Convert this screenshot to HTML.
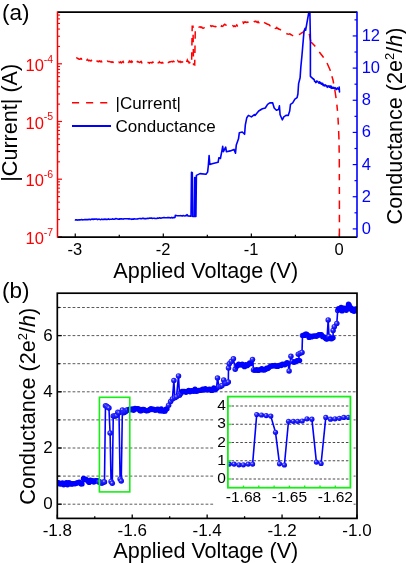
<!DOCTYPE html>
<html><head><meta charset="utf-8"><style>
html,body{margin:0;padding:0;background:#fff;}
svg{display:block;font-family:"Liberation Sans", sans-serif;will-change:transform;}
</style></head><body>
<svg width="406" height="563" viewBox="0 0 406 563">
<rect width="406" height="563" fill="#fff"/>
<text x="2.10" y="19.50" font-size="22.5" fill="#000" text-anchor="start" >(a)</text>
<line x1="75.25" y1="237.00" x2="75.25" y2="233.40" stroke="#000" stroke-width="1.2"/>
<line x1="163.30" y1="237.00" x2="163.30" y2="233.40" stroke="#000" stroke-width="1.2"/>
<line x1="251.35" y1="237.00" x2="251.35" y2="233.40" stroke="#000" stroke-width="1.2"/>
<line x1="339.40" y1="237.00" x2="339.40" y2="233.40" stroke="#000" stroke-width="1.2"/>
<line x1="119.27" y1="237.00" x2="119.27" y2="234.80" stroke="#000" stroke-width="1.2"/>
<line x1="207.32" y1="237.00" x2="207.32" y2="234.80" stroke="#000" stroke-width="1.2"/>
<line x1="295.38" y1="237.00" x2="295.38" y2="234.80" stroke="#000" stroke-width="1.2"/>
<text x="74.95" y="254.70" font-size="16.5" fill="#000" text-anchor="middle" >-3</text>
<text x="163.00" y="254.70" font-size="16.5" fill="#000" text-anchor="middle" >-2</text>
<text x="251.05" y="254.70" font-size="16.5" fill="#000" text-anchor="middle" >-1</text>
<text x="339.10" y="254.70" font-size="16.5" fill="#000" text-anchor="middle" >0</text>
<text x="205.70" y="278.00" font-size="21.6" fill="#000" text-anchor="middle" >Applied Voltage (V)</text>
<line x1="57.50" y1="236.90" x2="62.00" y2="236.90" stroke="#ff0000" stroke-width="1.2"/>
<line x1="57.50" y1="219.53" x2="60.00" y2="219.53" stroke="#ff0000" stroke-width="1.1"/>
<line x1="57.50" y1="209.37" x2="60.00" y2="209.37" stroke="#ff0000" stroke-width="1.1"/>
<line x1="57.50" y1="202.16" x2="60.00" y2="202.16" stroke="#ff0000" stroke-width="1.1"/>
<line x1="57.50" y1="196.57" x2="60.00" y2="196.57" stroke="#ff0000" stroke-width="1.1"/>
<line x1="57.50" y1="192.00" x2="60.00" y2="192.00" stroke="#ff0000" stroke-width="1.1"/>
<line x1="57.50" y1="188.14" x2="60.00" y2="188.14" stroke="#ff0000" stroke-width="1.1"/>
<line x1="57.50" y1="184.79" x2="60.00" y2="184.79" stroke="#ff0000" stroke-width="1.1"/>
<line x1="57.50" y1="181.84" x2="60.00" y2="181.84" stroke="#ff0000" stroke-width="1.1"/>
<line x1="57.50" y1="179.20" x2="62.00" y2="179.20" stroke="#ff0000" stroke-width="1.2"/>
<line x1="57.50" y1="161.83" x2="60.00" y2="161.83" stroke="#ff0000" stroke-width="1.1"/>
<line x1="57.50" y1="151.67" x2="60.00" y2="151.67" stroke="#ff0000" stroke-width="1.1"/>
<line x1="57.50" y1="144.46" x2="60.00" y2="144.46" stroke="#ff0000" stroke-width="1.1"/>
<line x1="57.50" y1="138.87" x2="60.00" y2="138.87" stroke="#ff0000" stroke-width="1.1"/>
<line x1="57.50" y1="134.30" x2="60.00" y2="134.30" stroke="#ff0000" stroke-width="1.1"/>
<line x1="57.50" y1="130.44" x2="60.00" y2="130.44" stroke="#ff0000" stroke-width="1.1"/>
<line x1="57.50" y1="127.09" x2="60.00" y2="127.09" stroke="#ff0000" stroke-width="1.1"/>
<line x1="57.50" y1="124.14" x2="60.00" y2="124.14" stroke="#ff0000" stroke-width="1.1"/>
<line x1="57.50" y1="121.50" x2="62.00" y2="121.50" stroke="#ff0000" stroke-width="1.2"/>
<line x1="57.50" y1="104.13" x2="60.00" y2="104.13" stroke="#ff0000" stroke-width="1.1"/>
<line x1="57.50" y1="93.97" x2="60.00" y2="93.97" stroke="#ff0000" stroke-width="1.1"/>
<line x1="57.50" y1="86.76" x2="60.00" y2="86.76" stroke="#ff0000" stroke-width="1.1"/>
<line x1="57.50" y1="81.17" x2="60.00" y2="81.17" stroke="#ff0000" stroke-width="1.1"/>
<line x1="57.50" y1="76.60" x2="60.00" y2="76.60" stroke="#ff0000" stroke-width="1.1"/>
<line x1="57.50" y1="72.74" x2="60.00" y2="72.74" stroke="#ff0000" stroke-width="1.1"/>
<line x1="57.50" y1="69.39" x2="60.00" y2="69.39" stroke="#ff0000" stroke-width="1.1"/>
<line x1="57.50" y1="66.44" x2="60.00" y2="66.44" stroke="#ff0000" stroke-width="1.1"/>
<line x1="57.50" y1="63.80" x2="62.00" y2="63.80" stroke="#ff0000" stroke-width="1.2"/>
<line x1="57.50" y1="46.43" x2="60.00" y2="46.43" stroke="#ff0000" stroke-width="1.1"/>
<line x1="57.50" y1="36.27" x2="60.00" y2="36.27" stroke="#ff0000" stroke-width="1.1"/>
<line x1="57.50" y1="29.06" x2="60.00" y2="29.06" stroke="#ff0000" stroke-width="1.1"/>
<line x1="57.50" y1="23.47" x2="60.00" y2="23.47" stroke="#ff0000" stroke-width="1.1"/>
<line x1="57.50" y1="18.90" x2="60.00" y2="18.90" stroke="#ff0000" stroke-width="1.1"/>
<line x1="57.50" y1="15.04" x2="60.00" y2="15.04" stroke="#ff0000" stroke-width="1.1"/>
<text x="43.9" y="70.80" font-size="16.5" fill="#ff0000" text-anchor="end">10</text>
<text x="43.7" y="62.50" font-size="10.5" fill="#ff0000">-4</text>
<text x="43.9" y="128.50" font-size="16.5" fill="#ff0000" text-anchor="end">10</text>
<text x="43.7" y="120.20" font-size="10.5" fill="#ff0000">-5</text>
<text x="43.9" y="186.20" font-size="16.5" fill="#ff0000" text-anchor="end">10</text>
<text x="43.7" y="177.90" font-size="10.5" fill="#ff0000">-6</text>
<text x="43.9" y="243.90" font-size="16.5" fill="#ff0000" text-anchor="end">10</text>
<text x="43.7" y="235.60" font-size="10.5" fill="#ff0000">-7</text>
<line x1="357.00" y1="228.90" x2="352.70" y2="228.90" stroke="#0000ff" stroke-width="1.2"/>
<line x1="357.00" y1="212.82" x2="354.50" y2="212.82" stroke="#0000ff" stroke-width="1.2"/>
<line x1="357.00" y1="196.74" x2="352.70" y2="196.74" stroke="#0000ff" stroke-width="1.2"/>
<line x1="357.00" y1="180.66" x2="354.50" y2="180.66" stroke="#0000ff" stroke-width="1.2"/>
<line x1="357.00" y1="164.58" x2="352.70" y2="164.58" stroke="#0000ff" stroke-width="1.2"/>
<line x1="357.00" y1="148.50" x2="354.50" y2="148.50" stroke="#0000ff" stroke-width="1.2"/>
<line x1="357.00" y1="132.42" x2="352.70" y2="132.42" stroke="#0000ff" stroke-width="1.2"/>
<line x1="357.00" y1="116.34" x2="354.50" y2="116.34" stroke="#0000ff" stroke-width="1.2"/>
<line x1="357.00" y1="100.26" x2="352.70" y2="100.26" stroke="#0000ff" stroke-width="1.2"/>
<line x1="357.00" y1="84.18" x2="354.50" y2="84.18" stroke="#0000ff" stroke-width="1.2"/>
<line x1="357.00" y1="68.10" x2="352.70" y2="68.10" stroke="#0000ff" stroke-width="1.2"/>
<line x1="357.00" y1="52.02" x2="354.50" y2="52.02" stroke="#0000ff" stroke-width="1.2"/>
<line x1="357.00" y1="35.94" x2="352.70" y2="35.94" stroke="#0000ff" stroke-width="1.2"/>
<line x1="357.00" y1="19.86" x2="354.50" y2="19.86" stroke="#0000ff" stroke-width="1.2"/>
<text x="361.70" y="233.90" font-size="16.5" fill="#0000ff" text-anchor="start" >0</text>
<text x="361.70" y="201.74" font-size="16.5" fill="#0000ff" text-anchor="start" >2</text>
<text x="361.70" y="169.58" font-size="16.5" fill="#0000ff" text-anchor="start" >4</text>
<text x="361.70" y="137.42" font-size="16.5" fill="#0000ff" text-anchor="start" >6</text>
<text x="361.70" y="105.26" font-size="16.5" fill="#0000ff" text-anchor="start" >8</text>
<text x="361.70" y="73.10" font-size="16.5" fill="#0000ff" text-anchor="start" >10</text>
<text x="361.70" y="40.94" font-size="16.5" fill="#0000ff" text-anchor="start" >12</text>
<text transform="translate(17.3,122.8) rotate(-90)" font-size="21.6" fill="#000" text-anchor="middle">|Current| (A)</text>
<text transform="translate(401.5,126) rotate(-90)" font-size="21.6" fill="#000" text-anchor="middle">Conductance (2e<tspan font-size="13" dy="-8">2</tspan><tspan dy="8">/</tspan><tspan font-style="italic">h</tspan>)</text>
<line x1="72.00" y1="102.80" x2="108.00" y2="102.80" stroke="#ff0000" stroke-width="1.5" stroke-dasharray="7.1 7"/>
<line x1="72.00" y1="126.00" x2="111.00" y2="126.00" stroke="#0000ff" stroke-width="1.8"/>
<text x="115.50" y="108.80" font-size="17" fill="#000" text-anchor="start" >|Current|</text>
<text x="115.50" y="131.80" font-size="17" fill="#000" text-anchor="start" >Conductance</text>
<polyline points="76.20,58.10 76.83,57.84 77.47,58.54 78.10,58.43 78.73,59.01 79.37,59.23 80.00,59.20 80.62,58.50 81.25,58.45 81.88,59.89 82.50,58.94 83.12,58.94 83.75,60.27 84.38,59.41 85.00,59.50 85.62,60.20 86.25,59.71 86.88,60.11 87.50,59.41 88.12,60.35 88.75,60.88 89.38,60.41 90.00,60.50 90.62,60.89 91.25,60.74 91.88,59.68 92.50,60.84 93.12,60.53 93.75,60.01 94.38,59.53 95.00,60.30 95.62,61.03 96.25,60.48 96.88,61.01 97.50,61.39 98.12,61.23 98.75,61.69 99.38,60.91 100.00,61.20 100.62,61.69 101.25,61.06 101.88,61.87 102.50,61.74 103.12,60.39 103.75,60.43 104.38,60.54 105.00,61.00 105.62,61.89 106.25,61.09 106.88,61.52 107.50,61.06 108.12,61.51 108.75,61.41 109.38,61.45 110.00,61.80 110.62,61.91 111.25,61.87 111.88,62.37 112.50,61.96 113.12,62.34 113.75,62.18 114.38,62.37 115.00,61.50 115.62,61.89 116.25,61.13 116.88,62.41 117.50,62.69 118.12,62.69 118.75,62.22 119.38,62.56 120.00,62.30 120.62,61.78 121.25,62.80 121.88,62.33 122.50,61.81 123.12,61.40 123.75,62.71 124.38,62.91 125.00,61.35 125.62,62.53 126.25,61.84 126.88,61.36 127.50,61.57 128.12,62.35 128.75,62.50 129.38,61.06 130.00,61.80 130.62,62.03 131.25,61.09 131.88,62.27 132.50,61.64 133.12,62.60 133.75,62.80 134.38,62.03 135.00,62.90 135.62,61.76 136.25,61.39 136.88,62.31 137.50,61.38 138.12,61.69 138.75,62.08 139.38,62.46 140.00,62.30 140.62,61.68 141.25,61.45 141.88,62.81 142.50,61.83 143.12,62.89 143.75,62.75 144.38,61.83 145.00,62.00 145.62,62.01 146.25,62.18 146.88,62.47 147.50,62.46 148.12,62.48 148.75,62.65 149.38,63.27 150.00,62.60 150.62,62.61 151.25,62.47 151.88,62.96 152.50,62.13 153.12,62.23 153.75,63.37 154.38,62.59 155.00,62.63 155.62,61.71 156.25,62.39 156.88,62.67 157.50,61.71 158.12,62.72 158.75,62.74 159.38,61.76 160.00,62.50 160.60,62.77 161.20,62.54 161.80,62.95 162.40,62.45 163.00,63.10 163.60,63.20 164.20,62.04 164.80,62.15 165.40,63.25 166.00,63.00 166.67,63.62 167.33,62.24 168.00,62.43 168.67,62.49 169.33,61.86 170.00,62.00 170.67,61.69 171.33,61.51 172.00,61.53 172.67,61.83 173.33,61.24 174.00,61.50 175.00,59.30 176.00,61.50 176.61,61.34 177.22,62.05 177.83,60.83 178.44,61.80 179.06,62.12 179.67,61.44 180.28,61.34 180.89,62.37 181.50,61.90 182.13,61.81 182.76,62.08 183.39,62.86 184.01,63.67 184.64,63.01 185.27,63.74 185.90,64.40 186.60,61.92 187.30,60.00 187.90,61.35 188.50,61.46 189.10,62.94 189.70,62.56 190.30,63.90 190.95,63.92 191.60,64.50 192.20,26.20 193.00,26.20 193.50,64.50 194.70,64.90 195.30,28.00 196.20,27.97 197.10,28.08 198.00,27.20 198.75,27.20 199.50,26.91 200.25,26.82 201.00,27.55 201.75,27.08 202.50,28.14 203.25,28.27 204.00,27.80 204.71,26.98 205.43,26.82 206.14,27.35 206.86,26.77 207.57,26.72 208.29,25.67 209.00,25.60 209.74,25.14 210.49,25.52 211.23,26.46 211.97,25.75 212.71,26.00 213.46,26.24 214.20,26.50 214.92,26.40 215.65,26.41 216.38,27.25 217.10,26.05 217.82,25.83 218.55,27.36 219.28,27.28 220.00,26.70 220.80,27.10 221.60,25.83 222.40,26.28 223.20,25.86 224.00,24.80 224.80,24.26 225.60,24.99 226.40,25.04 227.20,24.66 228.00,24.30 228.80,24.77 229.60,24.84 230.40,25.37 231.20,25.62 232.00,26.50 232.80,25.71 233.60,26.44 234.40,25.86 235.20,26.60 236.00,26.00 236.80,24.87 237.60,25.85 238.40,25.11 239.20,25.08 240.00,24.00 240.71,24.39 241.43,24.15 242.14,23.39 242.86,22.25 243.57,23.18 244.29,22.02 245.00,22.30 245.71,21.97 246.43,22.53 247.14,22.30 247.86,22.10 248.57,22.93 249.29,22.39 250.00,22.20 250.71,21.86 251.43,21.63 252.14,22.52 252.86,21.82 253.57,22.22 254.29,21.45 255.00,21.60 255.75,21.23 256.50,21.88 257.25,22.44 258.00,21.52 258.75,22.63 259.50,22.95 260.25,22.88 261.00,22.50 261.75,23.21 262.50,22.09 263.25,23.27 264.00,23.83 264.75,22.72 265.50,23.26 266.25,23.44 267.00,24.00 267.75,24.36 268.50,24.50 269.25,24.89 270.00,25.69 270.75,24.77 271.50,25.16 272.25,25.59 273.00,26.50 273.75,26.24 274.50,26.48 275.25,28.27 276.00,28.42 276.75,27.53 277.50,28.53 278.25,28.57 279.00,29.20 279.71,29.30 280.43,29.76 281.14,30.64 281.86,30.94 282.57,30.98 283.29,31.11 284.00,32.00 284.80,32.15 285.60,32.24 286.40,33.35 287.20,34.03 288.00,34.10 288.80,34.13 289.60,33.87 290.40,34.25 291.20,34.78 292.00,35.20 292.80,35.57 293.60,36.05 294.40,35.61 295.20,36.48 296.00,36.20 296.76,35.98 297.52,35.25 298.28,34.74 299.04,34.51 299.80,34.10 300.60,33.90 301.40,32.92 302.20,32.84 303.00,32.00 303.70,31.57 304.40,30.86 305.10,30.90 305.84,31.18 306.58,31.65 307.32,30.87 308.06,31.66 308.80,32.00 309.53,35.21 310.27,39.27 311.00,42.00" fill="none" stroke="#ff0000" stroke-width="1.5" stroke-dasharray="7.5 6.8"/>
<polyline points="311.00,42.00 314.70,45.80 319.00,51.60 323.20,57.00 327.00,63.00 330.00,69.70 333.00,80.00 335.00,91.00 336.50,101.00 337.60,112.00 338.40,125.00 339.00,140.00 339.30,160.00 339.40,200.00 339.40,236.00" fill="none" stroke="#ff0000" stroke-width="1.5" stroke-dasharray="6.2 6.8 7 6.5 8.5 5.6 7.5 6.3 8.5 6.6"/>
<polyline points="74.80,219.70 75.67,220.04 76.53,219.68 77.40,220.08 78.27,220.04 79.13,219.70 80.00,219.90 80.83,219.79 81.67,219.47 82.50,219.87 83.33,219.68 84.17,219.75 85.00,219.40 85.83,219.64 86.67,219.58 87.50,219.66 88.33,219.58 89.17,219.29 90.00,219.60 90.83,219.59 91.67,219.12 92.50,219.15 93.33,219.53 94.17,218.95 95.00,219.20 95.83,218.96 96.67,219.02 97.50,219.62 98.33,219.18 99.17,219.12 100.00,219.50 100.83,219.67 101.67,219.10 102.50,219.54 103.33,219.35 104.17,219.40 105.00,219.10 105.83,219.45 106.67,219.22 107.50,219.41 108.33,218.91 109.17,219.45 110.00,219.30 110.83,219.24 111.67,219.32 112.50,218.82 113.33,219.21 114.17,219.27 115.00,218.90 115.83,218.63 116.67,218.84 117.50,219.04 118.33,219.26 119.17,218.89 120.00,219.10 120.83,218.83 121.67,218.82 122.50,219.03 123.33,219.08 124.17,218.78 125.00,218.80 125.83,218.74 126.67,218.79 127.50,218.80 128.33,218.88 129.17,218.67 130.00,219.00 130.83,219.00 131.67,219.33 132.50,218.94 133.33,219.17 134.17,218.76 135.00,219.00 135.83,219.05 136.67,219.01 137.50,218.87 138.33,218.68 139.17,218.57 140.00,218.50 140.83,218.62 141.67,218.81 142.50,218.30 143.33,218.28 144.17,218.76 145.00,218.60 145.83,218.84 146.67,218.51 147.50,218.41 148.33,218.55 149.17,218.13 150.00,218.30 150.83,218.15 151.67,218.12 152.50,218.41 153.33,218.24 154.17,218.20 155.00,218.40 155.83,218.45 156.67,218.55 157.50,218.01 158.33,218.21 159.17,217.92 160.00,217.90 160.83,218.13 161.67,217.93 162.50,217.69 163.33,217.64 164.17,217.48 165.00,217.80 165.83,217.77 166.67,217.68 167.50,217.52 168.33,217.64 169.17,217.59 170.00,217.70 170.83,217.86 171.67,217.38 172.50,217.94 173.33,217.55 174.17,217.60 175.00,217.50 175.30,215.40 176.24,215.44 177.18,215.75 178.12,215.81 179.06,215.68 180.00,215.70 180.81,215.67 181.62,215.83 182.44,215.91 183.25,215.58 184.06,215.80 184.88,215.95 185.69,215.59 186.50,215.60 187.00,214.60 188.00,215.90 191.00,216.30 191.50,172.20 192.30,172.60 192.70,216.50 194.40,216.50 194.70,177.50 195.10,177.50 195.40,216.50 195.90,216.50 196.40,175.40 200.00,173.60 206.00,174.30 207.60,172.10 208.30,166.00 209.10,155.50 209.80,164.50 212.10,163.80 215.10,163.00 218.10,162.30 218.90,157.70 220.40,158.50 221.90,150.90 222.70,146.40 223.40,151.70 225.70,147.10 226.40,151.70 230.20,150.90 234.00,149.40 235.50,153.20 236.30,144.90 238.50,138.80 239.30,132.80 242.30,132.00 244.60,134.30 245.30,125.20 246.80,117.70 248.40,115.40 251.40,116.90 254.40,114.60 255.00,115.40 258.70,111.00 262.40,108.80 265.30,108.00 267.60,104.30 269.80,102.90 272.70,102.90 274.20,108.00 276.40,110.20 278.60,109.50 279.40,105.80 280.10,114.70 282.30,119.80 283.80,116.90 286.00,115.40 288.20,115.40 289.70,111.00 290.50,104.30 292.70,102.90 294.90,99.20 297.10,97.70 297.90,94.00 298.60,83.60 300.10,77.70 300.80,67.40 302.00,55.00 304.00,31.40 305.10,28.20 305.60,30.30 308.80,12.50 309.90,12.50 310.40,40.00 310.40,76.30 313.40,79.20 313.80,79.16 314.20,79.72 314.60,81.33 315.00,81.40 315.38,81.86 315.75,82.56 316.12,82.40 316.50,81.13 316.88,81.09 317.25,81.32 317.62,81.24 318.00,82.00 318.40,82.55 318.80,82.99 319.20,83.18 319.60,81.86 320.00,82.50 320.40,83.60 320.80,82.69 321.20,83.23 321.60,84.20 322.00,84.00 322.35,83.30 322.70,83.53 323.05,85.37 323.40,84.39 323.75,84.75 324.10,85.45 324.45,85.87 324.80,85.70 325.16,84.70 325.51,85.51 325.87,85.83 326.22,86.02 326.58,85.51 326.93,86.42 327.29,87.32 327.64,86.17 328.00,86.50 328.40,86.66 328.80,85.78 329.20,86.18 329.60,87.10 330.00,86.80 330.37,86.06 330.73,87.87 331.10,88.03 331.47,86.36 331.83,88.33 332.20,87.19 332.57,88.18 332.93,88.26 333.30,87.80 333.69,87.42 334.07,88.33 334.46,88.35 334.84,88.76 335.23,87.64 335.61,88.79 336.00,88.30 336.37,89.43 336.73,88.90 337.10,88.71 337.47,87.89 337.83,88.84 338.20,88.64 338.57,89.56 338.93,89.58 339.30,89.30 339.20,87.00 339.50,92.00 339.30,89.50" fill="none" stroke="#0000ff" stroke-width="1.6" stroke-linejoin="round"/>
<line x1="57.50" y1="12.00" x2="357.00" y2="12.00" stroke="#000" stroke-width="1.75"/>
<line x1="57.50" y1="237.00" x2="357.00" y2="237.00" stroke="#000" stroke-width="1.75"/>
<line x1="57.50" y1="11.40" x2="57.50" y2="237.60" stroke="#ff0000" stroke-width="1.5"/>
<line x1="357.00" y1="11.40" x2="357.00" y2="237.60" stroke="#0000ff" stroke-width="1.6"/>
<text x="2.10" y="297.70" font-size="22.5" fill="#000" text-anchor="start" >(b)</text>
<line x1="58.30" y1="504.20" x2="356.00" y2="504.20" stroke="#5a5a5a" stroke-width="1" stroke-dasharray="2.8 1.95"/>
<line x1="58.30" y1="476.10" x2="356.00" y2="476.10" stroke="#5a5a5a" stroke-width="1" stroke-dasharray="2.8 1.95"/>
<line x1="58.30" y1="448.00" x2="356.00" y2="448.00" stroke="#5a5a5a" stroke-width="1" stroke-dasharray="2.8 1.95"/>
<line x1="58.30" y1="419.90" x2="356.00" y2="419.90" stroke="#5a5a5a" stroke-width="1" stroke-dasharray="2.8 1.95"/>
<line x1="58.30" y1="391.80" x2="356.00" y2="391.80" stroke="#5a5a5a" stroke-width="1" stroke-dasharray="2.8 1.95"/>
<line x1="58.30" y1="363.70" x2="356.00" y2="363.70" stroke="#5a5a5a" stroke-width="1" stroke-dasharray="2.8 1.95"/>
<line x1="58.30" y1="335.60" x2="356.00" y2="335.60" stroke="#5a5a5a" stroke-width="1" stroke-dasharray="2.8 1.95"/>
<line x1="58.30" y1="307.50" x2="356.00" y2="307.50" stroke="#5a5a5a" stroke-width="1" stroke-dasharray="2.8 1.95"/>
<line x1="57.30" y1="504.20" x2="61.80" y2="504.20" stroke="#000" stroke-width="1.3"/>
<line x1="57.30" y1="476.10" x2="59.80" y2="476.10" stroke="#000" stroke-width="1.3"/>
<line x1="57.30" y1="448.00" x2="61.80" y2="448.00" stroke="#000" stroke-width="1.3"/>
<line x1="57.30" y1="419.90" x2="59.80" y2="419.90" stroke="#000" stroke-width="1.3"/>
<line x1="57.30" y1="391.80" x2="61.80" y2="391.80" stroke="#000" stroke-width="1.3"/>
<line x1="57.30" y1="363.70" x2="59.80" y2="363.70" stroke="#000" stroke-width="1.3"/>
<line x1="57.30" y1="335.60" x2="61.80" y2="335.60" stroke="#000" stroke-width="1.3"/>
<line x1="57.30" y1="307.50" x2="59.80" y2="307.50" stroke="#000" stroke-width="1.3"/>
<text x="52.60" y="509.20" font-size="17" fill="#000" text-anchor="end" >0</text>
<text x="52.60" y="453.00" font-size="17" fill="#000" text-anchor="end" >2</text>
<text x="52.60" y="396.80" font-size="17" fill="#000" text-anchor="end" >4</text>
<text x="52.60" y="340.60" font-size="17" fill="#000" text-anchor="end" >6</text>
<line x1="57.30" y1="518.40" x2="57.30" y2="514.60" stroke="#000" stroke-width="1.3"/>
<line x1="132.22" y1="518.40" x2="132.22" y2="514.60" stroke="#000" stroke-width="1.3"/>
<line x1="207.14" y1="518.40" x2="207.14" y2="514.60" stroke="#000" stroke-width="1.3"/>
<line x1="282.06" y1="518.40" x2="282.06" y2="514.60" stroke="#000" stroke-width="1.3"/>
<line x1="356.98" y1="518.40" x2="356.98" y2="514.60" stroke="#000" stroke-width="1.3"/>
<line x1="94.76" y1="518.40" x2="94.76" y2="516.20" stroke="#000" stroke-width="1.3"/>
<line x1="169.68" y1="518.40" x2="169.68" y2="516.20" stroke="#000" stroke-width="1.3"/>
<line x1="244.60" y1="518.40" x2="244.60" y2="516.20" stroke="#000" stroke-width="1.3"/>
<line x1="319.52" y1="518.40" x2="319.52" y2="516.20" stroke="#000" stroke-width="1.3"/>
<text x="57.30" y="536.00" font-size="17" fill="#000" text-anchor="middle" >-1.8</text>
<text x="132.22" y="536.00" font-size="17" fill="#000" text-anchor="middle" >-1.6</text>
<text x="207.14" y="536.00" font-size="17" fill="#000" text-anchor="middle" >-1.4</text>
<text x="282.06" y="536.00" font-size="17" fill="#000" text-anchor="middle" >-1.2</text>
<text x="356.98" y="536.00" font-size="17" fill="#000" text-anchor="middle" >-1.0</text>
<text x="205.80" y="558.10" font-size="21.6" fill="#000" text-anchor="middle" >Applied Voltage (V)</text>
<text transform="translate(35.3,406.2) rotate(-90)" font-size="21.6" fill="#000" text-anchor="middle">Conductance (2e<tspan font-size="13" dy="-8">2</tspan><tspan dy="8">/</tspan><tspan font-style="italic">h</tspan>)</text>
<defs><radialGradient id="sph" cx="0.38" cy="0.35" r="0.65"><stop offset="0" stop-color="#c8c8ff"/><stop offset="0.35" stop-color="#2a2aff"/><stop offset="1" stop-color="#0000ee"/></radialGradient><clipPath id="cb"><rect x="57.3" y="293.2" width="299.7" height="225.2"/></clipPath><clipPath id="ci"><rect x="227.7" y="396.3" width="122.8" height="91.5"/></clipPath></defs>
<g clip-path="url(#cb)">
<polyline points="57.30,483.58 58.58,482.61 59.87,483.93 61.15,483.95 62.43,482.80 63.72,484.79 65.00,484.22 66.25,482.73 67.50,484.87 68.75,482.68 70.00,483.15 71.25,484.15 72.50,483.76 73.75,483.60 75.00,483.80 76.17,483.25 77.33,482.83 78.50,482.43 79.67,482.10 80.83,483.82 82.00,483.89 83.50,478.42 84.50,479.55 85.50,479.12 86.75,479.87 88.00,481.19 89.17,482.46 90.33,480.16 91.50,481.36 92.67,480.62 93.83,481.98 95.00,480.81 96.10,480.68 97.20,480.81 98.30,481.00 98.77,481.96 99.94,481.96 101.14,483.04 102.22,483.04 103.40,481.96 104.47,481.96 105.48,405.75 106.65,406.37 107.80,407.29 108.93,408.06 110.08,433.00 111.06,481.50 112.26,483.35 113.26,416.07 114.44,416.07 115.51,416.07 116.62,415.60 117.79,412.22 118.99,412.83 120.09,478.88 121.24,481.04 122.39,410.06 123.54,412.83 124.64,412.22 125.72,411.45 126.80,410.06 127.90,410.06 129.50,409.11 130.88,409.83 132.25,408.80 133.62,410.24 135.00,408.35 136.25,408.96 137.50,408.67 138.75,408.88 140.00,410.85 141.25,410.79 142.50,409.40 143.75,409.49 145.00,410.17 146.25,410.76 147.50,410.65 148.75,410.17 150.00,409.45 151.00,408.55 152.00,409.53 153.33,409.04 154.67,410.01 156.00,410.18 157.33,409.26 158.67,409.46 160.00,410.96 161.25,408.88 162.50,410.92 163.75,411.11 165.00,411.21 166.00,409.08 167.00,408.80 168.60,405.20 170.60,401.50 172.40,399.00 173.90,380.60 174.80,397.80 176.50,396.80 178.50,375.90 179.50,395.20 181.00,393.20 182.00,391.34 183.33,391.36 184.67,391.43 186.00,392.29 187.33,391.44 188.67,390.33 190.00,391.77 191.25,390.71 192.50,390.97 193.75,391.26 195.00,389.26 196.25,391.28 197.50,390.94 198.75,390.43 200.00,390.46 201.33,390.14 202.67,389.27 204.00,390.03 205.33,388.55 206.67,389.65 208.00,389.89 209.17,389.25 210.33,389.48 211.50,390.44 212.67,390.16 213.83,388.02 215.00,389.69 216.50,388.40 217.50,378.00 219.00,386.80 220.50,386.50 222.00,385.50 223.70,380.00 225.50,383.50 227.00,383.00 228.30,382.00 228.50,368.00 229.30,363.70 231.20,361.50 233.40,358.80 235.20,369.20 236.50,366.50 237.50,365.53 238.67,364.04 239.83,364.92 241.00,364.63 242.17,364.26 243.33,365.55 244.50,366.66 245.73,364.59 246.97,365.63 248.20,364.73 249.60,362.86 251.00,363.50 252.50,359.40 253.50,369.90 255.00,370.37 256.50,369.62 258.00,370.45 259.25,369.83 260.50,369.85 261.75,368.73 263.00,369.93 264.20,369.97 265.40,369.48 266.60,368.03 267.80,368.59 269.00,367.56 270.20,366.30 271.40,365.89 272.60,365.74 273.80,365.83 275.00,365.48 276.25,366.14 277.50,366.44 278.75,365.75 280.00,365.19 281.20,365.48 282.40,364.23 283.60,364.34 284.80,364.81 286.00,363.53 287.00,362.69 288.00,363.30 289.10,370.90 290.90,356.30 292.50,361.50 294.00,362.28 295.50,361.69 297.00,360.64 298.30,360.45 299.60,360.60 298.30,354.20 300.20,353.20 302.00,352.40 302.50,335.50 303.50,335.38 304.45,335.41 305.40,334.25 306.62,334.21 307.85,335.31 309.07,337.41 310.30,336.24 311.54,336.97 312.78,336.14 314.02,336.06 315.26,335.83 316.50,336.34 317.73,335.43 318.95,334.77 320.17,334.72 321.40,334.60 322.70,336.72 324.00,336.81 325.10,337.71 326.05,338.86 327.00,339.00 328.20,319.90 329.00,336.50 330.00,338.55 331.55,338.85 333.10,337.80 333.10,330.40 334.30,326.70 336.80,323.60 337.70,310.50 338.50,308.58 339.37,309.45 340.23,309.03 341.10,307.30 342.07,310.88 343.03,308.39 344.00,308.14 344.77,309.61 345.53,308.59 346.30,310.34 347.50,307.45 348.50,304.15 349.25,305.14 350.00,308.82 351.10,307.94 352.20,310.54 353.12,309.50 354.05,311.31 354.97,309.16 355.90,309.10 356.77,309.16 357.63,311.13 358.50,310.00" fill="none" stroke="#0000ff" stroke-width="1.6" stroke-linejoin="round"/>
<circle cx="57.30" cy="483.58" r="2.65" fill="#0000ff"/>
<circle cx="58.58" cy="482.61" r="2.65" fill="#0000ff"/>
<circle cx="59.87" cy="483.93" r="2.65" fill="#0000ff"/>
<circle cx="61.15" cy="483.95" r="2.65" fill="#0000ff"/>
<circle cx="62.43" cy="482.80" r="2.65" fill="#0000ff"/>
<circle cx="63.72" cy="484.79" r="2.65" fill="#0000ff"/>
<circle cx="65.00" cy="484.22" r="2.65" fill="#0000ff"/>
<circle cx="66.25" cy="482.73" r="2.65" fill="#0000ff"/>
<circle cx="67.50" cy="484.87" r="2.65" fill="#0000ff"/>
<circle cx="68.75" cy="482.68" r="2.65" fill="#0000ff"/>
<circle cx="70.00" cy="483.15" r="2.65" fill="#0000ff"/>
<circle cx="71.25" cy="484.15" r="2.65" fill="#0000ff"/>
<circle cx="72.50" cy="483.76" r="2.65" fill="#0000ff"/>
<circle cx="73.75" cy="483.60" r="2.65" fill="#0000ff"/>
<circle cx="75.00" cy="483.80" r="2.65" fill="#0000ff"/>
<circle cx="76.17" cy="483.25" r="2.65" fill="#0000ff"/>
<circle cx="77.33" cy="482.83" r="2.65" fill="#0000ff"/>
<circle cx="78.50" cy="482.43" r="2.65" fill="#0000ff"/>
<circle cx="79.67" cy="482.10" r="2.65" fill="#0000ff"/>
<circle cx="80.83" cy="483.82" r="2.65" fill="#0000ff"/>
<circle cx="82.00" cy="483.89" r="2.65" fill="#0000ff"/>
<circle cx="83.50" cy="478.42" r="2.65" fill="#0000ff"/>
<circle cx="84.50" cy="479.55" r="2.65" fill="#0000ff"/>
<circle cx="85.50" cy="479.12" r="2.65" fill="#0000ff"/>
<circle cx="86.75" cy="479.87" r="2.65" fill="#0000ff"/>
<circle cx="88.00" cy="481.19" r="2.65" fill="#0000ff"/>
<circle cx="89.17" cy="482.46" r="2.65" fill="#0000ff"/>
<circle cx="90.33" cy="480.16" r="2.65" fill="#0000ff"/>
<circle cx="91.50" cy="481.36" r="2.65" fill="#0000ff"/>
<circle cx="92.67" cy="480.62" r="2.65" fill="#0000ff"/>
<circle cx="93.83" cy="481.98" r="2.65" fill="#0000ff"/>
<circle cx="95.00" cy="480.81" r="2.65" fill="#0000ff"/>
<circle cx="96.10" cy="480.68" r="2.65" fill="#0000ff"/>
<circle cx="97.20" cy="480.81" r="2.65" fill="#0000ff"/>
<circle cx="98.30" cy="481.00" r="2.65" fill="#0000ff"/>
<circle cx="98.77" cy="481.96" r="2.75" fill="url(#sph)"/>
<circle cx="99.94" cy="481.96" r="2.75" fill="url(#sph)"/>
<circle cx="101.14" cy="483.04" r="2.75" fill="url(#sph)"/>
<circle cx="102.22" cy="483.04" r="2.75" fill="url(#sph)"/>
<circle cx="103.40" cy="481.96" r="2.75" fill="url(#sph)"/>
<circle cx="104.47" cy="481.96" r="2.75" fill="url(#sph)"/>
<circle cx="105.48" cy="405.75" r="2.75" fill="url(#sph)"/>
<circle cx="106.65" cy="406.37" r="2.75" fill="url(#sph)"/>
<circle cx="107.80" cy="407.29" r="2.75" fill="url(#sph)"/>
<circle cx="108.93" cy="408.06" r="2.75" fill="url(#sph)"/>
<circle cx="110.08" cy="433.00" r="2.75" fill="url(#sph)"/>
<circle cx="111.06" cy="481.50" r="2.75" fill="url(#sph)"/>
<circle cx="112.26" cy="483.35" r="2.75" fill="url(#sph)"/>
<circle cx="113.26" cy="416.07" r="2.75" fill="url(#sph)"/>
<circle cx="114.44" cy="416.07" r="2.75" fill="url(#sph)"/>
<circle cx="115.51" cy="416.07" r="2.75" fill="url(#sph)"/>
<circle cx="116.62" cy="415.60" r="2.75" fill="url(#sph)"/>
<circle cx="117.79" cy="412.22" r="2.75" fill="url(#sph)"/>
<circle cx="118.99" cy="412.83" r="2.75" fill="url(#sph)"/>
<circle cx="120.09" cy="478.88" r="2.75" fill="url(#sph)"/>
<circle cx="121.24" cy="481.04" r="2.75" fill="url(#sph)"/>
<circle cx="122.39" cy="410.06" r="2.75" fill="url(#sph)"/>
<circle cx="123.54" cy="412.83" r="2.75" fill="url(#sph)"/>
<circle cx="124.64" cy="412.22" r="2.75" fill="url(#sph)"/>
<circle cx="125.72" cy="411.45" r="2.75" fill="url(#sph)"/>
<circle cx="126.80" cy="410.06" r="2.75" fill="url(#sph)"/>
<circle cx="127.90" cy="410.06" r="2.75" fill="url(#sph)"/>
<circle cx="129.50" cy="409.11" r="2.65" fill="#0000ff"/>
<circle cx="130.88" cy="409.83" r="2.65" fill="#0000ff"/>
<circle cx="132.25" cy="408.80" r="2.65" fill="#0000ff"/>
<circle cx="133.62" cy="410.24" r="2.65" fill="#0000ff"/>
<circle cx="135.00" cy="408.35" r="2.65" fill="#0000ff"/>
<circle cx="136.25" cy="408.96" r="2.65" fill="#0000ff"/>
<circle cx="137.50" cy="408.67" r="2.65" fill="#0000ff"/>
<circle cx="138.75" cy="408.88" r="2.65" fill="#0000ff"/>
<circle cx="140.00" cy="410.85" r="2.65" fill="#0000ff"/>
<circle cx="141.25" cy="410.79" r="2.65" fill="#0000ff"/>
<circle cx="142.50" cy="409.40" r="2.65" fill="#0000ff"/>
<circle cx="143.75" cy="409.49" r="2.65" fill="#0000ff"/>
<circle cx="145.00" cy="410.17" r="2.65" fill="#0000ff"/>
<circle cx="146.25" cy="410.76" r="2.65" fill="#0000ff"/>
<circle cx="147.50" cy="410.65" r="2.65" fill="#0000ff"/>
<circle cx="148.75" cy="410.17" r="2.65" fill="#0000ff"/>
<circle cx="150.00" cy="409.45" r="2.65" fill="#0000ff"/>
<circle cx="151.00" cy="408.55" r="2.65" fill="#0000ff"/>
<circle cx="152.00" cy="409.53" r="2.65" fill="#0000ff"/>
<circle cx="153.33" cy="409.04" r="2.65" fill="#0000ff"/>
<circle cx="154.67" cy="410.01" r="2.65" fill="#0000ff"/>
<circle cx="156.00" cy="410.18" r="2.65" fill="#0000ff"/>
<circle cx="157.33" cy="409.26" r="2.65" fill="#0000ff"/>
<circle cx="158.67" cy="409.46" r="2.65" fill="#0000ff"/>
<circle cx="160.00" cy="410.96" r="2.65" fill="#0000ff"/>
<circle cx="161.25" cy="408.88" r="2.65" fill="#0000ff"/>
<circle cx="162.50" cy="410.92" r="2.65" fill="#0000ff"/>
<circle cx="163.75" cy="411.11" r="2.65" fill="#0000ff"/>
<circle cx="165.00" cy="411.21" r="2.65" fill="#0000ff"/>
<circle cx="166.00" cy="409.08" r="2.65" fill="#0000ff"/>
<circle cx="167.00" cy="408.80" r="2.65" fill="#0000ff"/>
<circle cx="168.60" cy="405.20" r="2.75" fill="url(#sph)"/>
<circle cx="170.60" cy="401.50" r="2.75" fill="url(#sph)"/>
<circle cx="172.40" cy="399.00" r="2.75" fill="url(#sph)"/>
<circle cx="173.90" cy="380.60" r="2.75" fill="url(#sph)"/>
<circle cx="174.80" cy="397.80" r="2.75" fill="url(#sph)"/>
<circle cx="176.50" cy="396.80" r="2.75" fill="url(#sph)"/>
<circle cx="178.50" cy="375.90" r="2.75" fill="url(#sph)"/>
<circle cx="179.50" cy="395.20" r="2.75" fill="url(#sph)"/>
<circle cx="181.00" cy="393.20" r="2.75" fill="url(#sph)"/>
<circle cx="182.00" cy="391.34" r="2.65" fill="#0000ff"/>
<circle cx="183.33" cy="391.36" r="2.65" fill="#0000ff"/>
<circle cx="184.67" cy="391.43" r="2.65" fill="#0000ff"/>
<circle cx="186.00" cy="392.29" r="2.65" fill="#0000ff"/>
<circle cx="187.33" cy="391.44" r="2.65" fill="#0000ff"/>
<circle cx="188.67" cy="390.33" r="2.65" fill="#0000ff"/>
<circle cx="190.00" cy="391.77" r="2.65" fill="#0000ff"/>
<circle cx="191.25" cy="390.71" r="2.65" fill="#0000ff"/>
<circle cx="192.50" cy="390.97" r="2.65" fill="#0000ff"/>
<circle cx="193.75" cy="391.26" r="2.65" fill="#0000ff"/>
<circle cx="195.00" cy="389.26" r="2.65" fill="#0000ff"/>
<circle cx="196.25" cy="391.28" r="2.65" fill="#0000ff"/>
<circle cx="197.50" cy="390.94" r="2.65" fill="#0000ff"/>
<circle cx="198.75" cy="390.43" r="2.65" fill="#0000ff"/>
<circle cx="200.00" cy="390.46" r="2.65" fill="#0000ff"/>
<circle cx="201.33" cy="390.14" r="2.65" fill="#0000ff"/>
<circle cx="202.67" cy="389.27" r="2.65" fill="#0000ff"/>
<circle cx="204.00" cy="390.03" r="2.65" fill="#0000ff"/>
<circle cx="205.33" cy="388.55" r="2.65" fill="#0000ff"/>
<circle cx="206.67" cy="389.65" r="2.65" fill="#0000ff"/>
<circle cx="208.00" cy="389.89" r="2.65" fill="#0000ff"/>
<circle cx="209.17" cy="389.25" r="2.65" fill="#0000ff"/>
<circle cx="210.33" cy="389.48" r="2.65" fill="#0000ff"/>
<circle cx="211.50" cy="390.44" r="2.65" fill="#0000ff"/>
<circle cx="212.67" cy="390.16" r="2.65" fill="#0000ff"/>
<circle cx="213.83" cy="388.02" r="2.65" fill="#0000ff"/>
<circle cx="215.00" cy="389.69" r="2.65" fill="#0000ff"/>
<circle cx="216.50" cy="388.40" r="2.65" fill="#0000ff"/>
<circle cx="217.50" cy="378.00" r="2.75" fill="url(#sph)"/>
<circle cx="219.00" cy="386.80" r="2.75" fill="url(#sph)"/>
<circle cx="220.50" cy="386.50" r="2.75" fill="url(#sph)"/>
<circle cx="222.00" cy="385.50" r="2.75" fill="url(#sph)"/>
<circle cx="223.70" cy="380.00" r="2.75" fill="url(#sph)"/>
<circle cx="225.50" cy="383.50" r="2.75" fill="url(#sph)"/>
<circle cx="227.00" cy="383.00" r="2.75" fill="url(#sph)"/>
<circle cx="228.30" cy="382.00" r="2.75" fill="url(#sph)"/>
<circle cx="228.50" cy="368.00" r="2.75" fill="url(#sph)"/>
<circle cx="229.30" cy="363.70" r="2.75" fill="url(#sph)"/>
<circle cx="231.20" cy="361.50" r="2.75" fill="url(#sph)"/>
<circle cx="233.40" cy="358.80" r="2.75" fill="url(#sph)"/>
<circle cx="235.20" cy="369.20" r="2.75" fill="url(#sph)"/>
<circle cx="236.50" cy="366.50" r="2.75" fill="url(#sph)"/>
<circle cx="237.50" cy="365.53" r="2.65" fill="#0000ff"/>
<circle cx="238.67" cy="364.04" r="2.65" fill="#0000ff"/>
<circle cx="239.83" cy="364.92" r="2.65" fill="#0000ff"/>
<circle cx="241.00" cy="364.63" r="2.65" fill="#0000ff"/>
<circle cx="242.17" cy="364.26" r="2.65" fill="#0000ff"/>
<circle cx="243.33" cy="365.55" r="2.65" fill="#0000ff"/>
<circle cx="244.50" cy="366.66" r="2.65" fill="#0000ff"/>
<circle cx="245.73" cy="364.59" r="2.65" fill="#0000ff"/>
<circle cx="246.97" cy="365.63" r="2.65" fill="#0000ff"/>
<circle cx="248.20" cy="364.73" r="2.65" fill="#0000ff"/>
<circle cx="249.60" cy="362.86" r="2.65" fill="#0000ff"/>
<circle cx="251.00" cy="363.50" r="2.65" fill="#0000ff"/>
<circle cx="252.50" cy="359.40" r="2.75" fill="url(#sph)"/>
<circle cx="253.50" cy="369.90" r="2.75" fill="url(#sph)"/>
<circle cx="255.00" cy="370.37" r="2.65" fill="#0000ff"/>
<circle cx="256.50" cy="369.62" r="2.65" fill="#0000ff"/>
<circle cx="258.00" cy="370.45" r="2.65" fill="#0000ff"/>
<circle cx="259.25" cy="369.83" r="2.65" fill="#0000ff"/>
<circle cx="260.50" cy="369.85" r="2.65" fill="#0000ff"/>
<circle cx="261.75" cy="368.73" r="2.65" fill="#0000ff"/>
<circle cx="263.00" cy="369.93" r="2.65" fill="#0000ff"/>
<circle cx="264.20" cy="369.97" r="2.65" fill="#0000ff"/>
<circle cx="265.40" cy="369.48" r="2.65" fill="#0000ff"/>
<circle cx="266.60" cy="368.03" r="2.65" fill="#0000ff"/>
<circle cx="267.80" cy="368.59" r="2.65" fill="#0000ff"/>
<circle cx="269.00" cy="367.56" r="2.65" fill="#0000ff"/>
<circle cx="270.20" cy="366.30" r="2.65" fill="#0000ff"/>
<circle cx="271.40" cy="365.89" r="2.65" fill="#0000ff"/>
<circle cx="272.60" cy="365.74" r="2.65" fill="#0000ff"/>
<circle cx="273.80" cy="365.83" r="2.65" fill="#0000ff"/>
<circle cx="275.00" cy="365.48" r="2.65" fill="#0000ff"/>
<circle cx="276.25" cy="366.14" r="2.65" fill="#0000ff"/>
<circle cx="277.50" cy="366.44" r="2.65" fill="#0000ff"/>
<circle cx="278.75" cy="365.75" r="2.65" fill="#0000ff"/>
<circle cx="280.00" cy="365.19" r="2.65" fill="#0000ff"/>
<circle cx="281.20" cy="365.48" r="2.65" fill="#0000ff"/>
<circle cx="282.40" cy="364.23" r="2.65" fill="#0000ff"/>
<circle cx="283.60" cy="364.34" r="2.65" fill="#0000ff"/>
<circle cx="284.80" cy="364.81" r="2.65" fill="#0000ff"/>
<circle cx="286.00" cy="363.53" r="2.65" fill="#0000ff"/>
<circle cx="287.00" cy="362.69" r="2.65" fill="#0000ff"/>
<circle cx="288.00" cy="363.30" r="2.65" fill="#0000ff"/>
<circle cx="289.10" cy="370.90" r="2.75" fill="url(#sph)"/>
<circle cx="290.90" cy="356.30" r="2.75" fill="url(#sph)"/>
<circle cx="292.50" cy="361.50" r="2.75" fill="url(#sph)"/>
<circle cx="294.00" cy="362.28" r="2.65" fill="#0000ff"/>
<circle cx="295.50" cy="361.69" r="2.65" fill="#0000ff"/>
<circle cx="297.00" cy="360.64" r="2.65" fill="#0000ff"/>
<circle cx="298.30" cy="360.45" r="2.65" fill="#0000ff"/>
<circle cx="299.60" cy="360.60" r="2.65" fill="#0000ff"/>
<circle cx="298.30" cy="354.20" r="2.75" fill="url(#sph)"/>
<circle cx="300.20" cy="353.20" r="2.75" fill="url(#sph)"/>
<circle cx="302.00" cy="352.40" r="2.75" fill="url(#sph)"/>
<circle cx="302.50" cy="335.50" r="2.75" fill="url(#sph)"/>
<circle cx="303.50" cy="335.38" r="2.65" fill="#0000ff"/>
<circle cx="304.45" cy="335.41" r="2.65" fill="#0000ff"/>
<circle cx="305.40" cy="334.25" r="2.65" fill="#0000ff"/>
<circle cx="306.62" cy="334.21" r="2.65" fill="#0000ff"/>
<circle cx="307.85" cy="335.31" r="2.65" fill="#0000ff"/>
<circle cx="309.07" cy="337.41" r="2.65" fill="#0000ff"/>
<circle cx="310.30" cy="336.24" r="2.65" fill="#0000ff"/>
<circle cx="311.54" cy="336.97" r="2.65" fill="#0000ff"/>
<circle cx="312.78" cy="336.14" r="2.65" fill="#0000ff"/>
<circle cx="314.02" cy="336.06" r="2.65" fill="#0000ff"/>
<circle cx="315.26" cy="335.83" r="2.65" fill="#0000ff"/>
<circle cx="316.50" cy="336.34" r="2.65" fill="#0000ff"/>
<circle cx="317.73" cy="335.43" r="2.65" fill="#0000ff"/>
<circle cx="318.95" cy="334.77" r="2.65" fill="#0000ff"/>
<circle cx="320.17" cy="334.72" r="2.65" fill="#0000ff"/>
<circle cx="321.40" cy="334.60" r="2.65" fill="#0000ff"/>
<circle cx="322.70" cy="336.72" r="2.65" fill="#0000ff"/>
<circle cx="324.00" cy="336.81" r="2.65" fill="#0000ff"/>
<circle cx="325.10" cy="337.71" r="2.65" fill="#0000ff"/>
<circle cx="326.05" cy="338.86" r="2.65" fill="#0000ff"/>
<circle cx="327.00" cy="339.00" r="2.65" fill="#0000ff"/>
<circle cx="328.20" cy="319.90" r="2.75" fill="url(#sph)"/>
<circle cx="329.00" cy="336.50" r="2.75" fill="url(#sph)"/>
<circle cx="330.00" cy="338.55" r="2.65" fill="#0000ff"/>
<circle cx="331.55" cy="338.85" r="2.65" fill="#0000ff"/>
<circle cx="333.10" cy="337.80" r="2.65" fill="#0000ff"/>
<circle cx="333.10" cy="330.40" r="2.75" fill="url(#sph)"/>
<circle cx="334.30" cy="326.70" r="2.75" fill="url(#sph)"/>
<circle cx="336.80" cy="323.60" r="2.75" fill="url(#sph)"/>
<circle cx="337.70" cy="310.50" r="2.75" fill="url(#sph)"/>
<circle cx="338.50" cy="308.58" r="2.65" fill="#0000ff"/>
<circle cx="339.37" cy="309.45" r="2.65" fill="#0000ff"/>
<circle cx="340.23" cy="309.03" r="2.65" fill="#0000ff"/>
<circle cx="341.10" cy="307.30" r="2.65" fill="#0000ff"/>
<circle cx="342.07" cy="310.88" r="2.65" fill="#0000ff"/>
<circle cx="343.03" cy="308.39" r="2.65" fill="#0000ff"/>
<circle cx="344.00" cy="308.14" r="2.65" fill="#0000ff"/>
<circle cx="344.77" cy="309.61" r="2.65" fill="#0000ff"/>
<circle cx="345.53" cy="308.59" r="2.65" fill="#0000ff"/>
<circle cx="346.30" cy="310.34" r="2.65" fill="#0000ff"/>
<circle cx="347.50" cy="307.45" r="2.65" fill="#0000ff"/>
<circle cx="348.50" cy="304.15" r="2.65" fill="#0000ff"/>
<circle cx="349.25" cy="305.14" r="2.65" fill="#0000ff"/>
<circle cx="350.00" cy="308.82" r="2.65" fill="#0000ff"/>
<circle cx="351.10" cy="307.94" r="2.65" fill="#0000ff"/>
<circle cx="352.20" cy="310.54" r="2.65" fill="#0000ff"/>
<circle cx="353.12" cy="309.50" r="2.65" fill="#0000ff"/>
<circle cx="354.05" cy="311.31" r="2.65" fill="#0000ff"/>
<circle cx="354.97" cy="309.16" r="2.65" fill="#0000ff"/>
<circle cx="355.90" cy="309.10" r="2.65" fill="#0000ff"/>
<circle cx="356.77" cy="309.16" r="2.65" fill="#0000ff"/>
<circle cx="357.63" cy="311.13" r="2.65" fill="#0000ff"/>
<circle cx="358.50" cy="310.00" r="2.65" fill="#0000ff"/>
</g>
<rect x="99.4" y="397.3" width="30.4" height="94.6" fill="none" stroke="#14f014" stroke-width="1.6"/>
<rect x="214" y="394" width="139.6" height="115" fill="#fff"/>
<line x1="231.50" y1="479.00" x2="350.00" y2="479.00" stroke="#484848" stroke-width="1" stroke-dasharray="2.5 1.9"/>
<line x1="231.50" y1="460.75" x2="350.00" y2="460.75" stroke="#484848" stroke-width="1" stroke-dasharray="2.5 1.9"/>
<line x1="231.50" y1="442.50" x2="350.00" y2="442.50" stroke="#484848" stroke-width="1" stroke-dasharray="2.5 1.9"/>
<line x1="231.50" y1="424.25" x2="350.00" y2="424.25" stroke="#484848" stroke-width="1" stroke-dasharray="2.5 1.9"/>
<line x1="231.50" y1="406.00" x2="350.00" y2="406.00" stroke="#484848" stroke-width="1" stroke-dasharray="2.5 1.9"/>
<text x="225.80" y="483.00" font-size="15.5" fill="#000" text-anchor="end" >0</text>
<text x="225.80" y="464.75" font-size="15.5" fill="#000" text-anchor="end" >1</text>
<text x="225.80" y="446.50" font-size="15.5" fill="#000" text-anchor="end" >2</text>
<text x="225.80" y="428.25" font-size="15.5" fill="#000" text-anchor="end" >3</text>
<text x="225.80" y="410.00" font-size="15.5" fill="#000" text-anchor="end" >4</text>
<line x1="243.50" y1="487.60" x2="243.50" y2="485.60" stroke="#14f014" stroke-width="1.3"/>
<line x1="258.80" y1="487.60" x2="258.80" y2="485.60" stroke="#14f014" stroke-width="1.3"/>
<line x1="274.10" y1="487.60" x2="274.10" y2="485.60" stroke="#14f014" stroke-width="1.3"/>
<line x1="289.40" y1="487.60" x2="289.40" y2="485.60" stroke="#14f014" stroke-width="1.3"/>
<line x1="304.70" y1="487.60" x2="304.70" y2="485.60" stroke="#14f014" stroke-width="1.3"/>
<line x1="320.00" y1="487.60" x2="320.00" y2="485.60" stroke="#14f014" stroke-width="1.3"/>
<line x1="335.30" y1="487.60" x2="335.30" y2="485.60" stroke="#14f014" stroke-width="1.3"/>
<line x1="228.00" y1="479.00" x2="231.20" y2="479.00" stroke="#14f014" stroke-width="1.3"/>
<line x1="228.00" y1="460.75" x2="231.20" y2="460.75" stroke="#14f014" stroke-width="1.3"/>
<line x1="228.00" y1="442.50" x2="231.20" y2="442.50" stroke="#14f014" stroke-width="1.3"/>
<line x1="228.00" y1="424.25" x2="231.20" y2="424.25" stroke="#14f014" stroke-width="1.3"/>
<line x1="228.00" y1="406.00" x2="231.20" y2="406.00" stroke="#14f014" stroke-width="1.3"/>
<text x="243.50" y="501.90" font-size="15.5" fill="#000" text-anchor="middle" >-1.68</text>
<text x="289.40" y="501.90" font-size="15.5" fill="#000" text-anchor="middle" >-1.65</text>
<text x="335.30" y="501.90" font-size="15.5" fill="#000" text-anchor="middle" >-1.62</text>
<g clip-path="url(#ci)">
<polyline points="229.30,464.10 234.10,464.10 239.00,464.80 243.40,464.80 248.20,464.10 252.60,464.10 256.70,414.60 261.50,415.00 266.20,415.60 270.80,416.10 275.50,432.30 279.50,463.80 284.40,465.00 288.50,421.30 293.30,421.30 297.70,421.30 302.20,421.00 307.00,418.80 311.90,419.20 316.40,462.10 321.10,463.50 325.80,417.40 330.50,419.20 335.00,418.80 339.40,418.30 343.80,417.40 348.30,417.40" fill="none" stroke="#0000ff" stroke-width="1.6" stroke-linejoin="round"/>
<circle cx="229.30" cy="464.10" r="2.6" fill="url(#sph)"/>
<circle cx="234.10" cy="464.10" r="2.6" fill="url(#sph)"/>
<circle cx="239.00" cy="464.80" r="2.6" fill="url(#sph)"/>
<circle cx="243.40" cy="464.80" r="2.6" fill="url(#sph)"/>
<circle cx="248.20" cy="464.10" r="2.6" fill="url(#sph)"/>
<circle cx="252.60" cy="464.10" r="2.6" fill="url(#sph)"/>
<circle cx="256.70" cy="414.60" r="2.6" fill="url(#sph)"/>
<circle cx="261.50" cy="415.00" r="2.6" fill="url(#sph)"/>
<circle cx="266.20" cy="415.60" r="2.6" fill="url(#sph)"/>
<circle cx="270.80" cy="416.10" r="2.6" fill="url(#sph)"/>
<circle cx="275.50" cy="432.30" r="2.6" fill="url(#sph)"/>
<circle cx="279.50" cy="463.80" r="2.6" fill="url(#sph)"/>
<circle cx="284.40" cy="465.00" r="2.6" fill="url(#sph)"/>
<circle cx="288.50" cy="421.30" r="2.6" fill="url(#sph)"/>
<circle cx="293.30" cy="421.30" r="2.6" fill="url(#sph)"/>
<circle cx="297.70" cy="421.30" r="2.6" fill="url(#sph)"/>
<circle cx="302.20" cy="421.00" r="2.6" fill="url(#sph)"/>
<circle cx="307.00" cy="418.80" r="2.6" fill="url(#sph)"/>
<circle cx="311.90" cy="419.20" r="2.6" fill="url(#sph)"/>
<circle cx="316.40" cy="462.10" r="2.6" fill="url(#sph)"/>
<circle cx="321.10" cy="463.50" r="2.6" fill="url(#sph)"/>
<circle cx="325.80" cy="417.40" r="2.6" fill="url(#sph)"/>
<circle cx="330.50" cy="419.20" r="2.6" fill="url(#sph)"/>
<circle cx="335.00" cy="418.80" r="2.6" fill="url(#sph)"/>
<circle cx="339.40" cy="418.30" r="2.6" fill="url(#sph)"/>
<circle cx="343.80" cy="417.40" r="2.6" fill="url(#sph)"/>
<circle cx="348.30" cy="417.40" r="2.6" fill="url(#sph)"/>
</g>
<rect x="227.9" y="396.6" width="122.5" height="91.1" fill="none" stroke="#14f014" stroke-width="1.8"/>
<rect x="57.3" y="293.2" width="299.7" height="225.2" fill="none" stroke="#000" stroke-width="1.7"/>
</svg></body></html>
